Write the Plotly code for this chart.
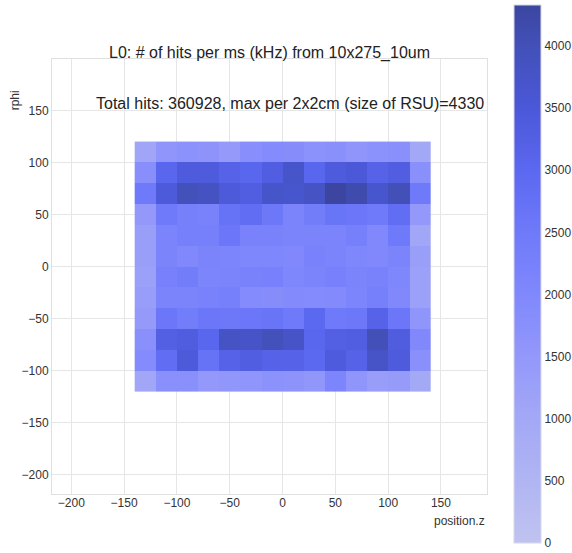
import plotly.graph_objects as go

# bin centers
z_centers = [-130, -110, -90, -70, -50, -30, -10, 10, 30, 50, 70, 90, 110, 130]
rphi_centers = [110, 90, 70, 50, 30, 10, -10, -30, -50, -70, -90, -110]

# hits per 2x2cm cell, rows from top (rphi=110) to bottom (rphi=-110)
hits = [
    [1100, 1600, 1700, 1650, 1450, 1800, 1900, 1850, 1700, 1750, 1600, 1700, 1750, 1000],
    [1800, 3050, 3400, 3400, 3150, 3050, 3300, 3700, 3050, 3400, 3500, 3150, 3300, 1750],
    [2500, 3450, 3950, 3850, 3450, 3300, 3700, 3650, 3800, 4330, 4150, 3650, 4000, 2500],
    [1500, 2500, 2300, 2200, 2700, 2850, 2550, 2150, 2400, 2650, 2600, 2500, 2850, 1500],
    [1300, 2150, 2300, 2300, 2600, 2200, 2200, 2150, 2150, 2150, 2300, 2000, 2500, 1050],
    [1300, 2150, 2000, 2150, 2100, 2050, 2050, 2000, 2200, 2150, 2050, 2000, 2150, 1300],
    [1250, 2250, 2400, 2100, 2150, 2200, 2250, 2050, 2150, 2250, 2150, 2200, 2050, 1250],
    [1350, 2150, 2150, 2200, 2300, 1900, 1850, 1950, 1900, 1950, 2100, 2300, 2000, 1250],
    [1450, 2600, 2400, 2600, 2550, 2600, 2650, 2500, 3000, 2500, 2550, 3150, 2600, 1600],
    [1750, 3250, 3350, 3050, 3800, 3750, 3950, 3750, 3050, 3250, 3300, 4000, 3350, 2000],
    [1900, 2850, 3450, 2700, 3150, 3300, 3150, 3150, 3000, 3400, 3150, 3750, 3400, 1750],
    [1050, 1750, 1750, 1500, 1550, 1600, 1700, 1650, 1550, 2100, 1600, 1350, 1400, 950],
]

cbar_ticks = [0, 500, 1000, 1500, 2000, 2500, 3000, 3500, 4000]
x_ticks = [-200, -150, -100, -50, 0, 50, 100, 150]
y_ticks = [-200, -150, -100, -50, 0, 50, 100, 150]

title_text = "L0: # of hits per ms (kHz) from 10x275_10um"
note_text = "Total hits: 360928, max per 2x2cm (size of RSU)=4330"

zmax = 4330
cs = [
    [0.0, "#c0c3f0"],
    [500 / zmax, "#b0b5f3"],
    [1000 / zmax, "#a3a8f6"],
    [1500 / zmax, "#9398fa"],
    [2000 / zmax, "#8088fc"],
    [2500 / zmax, "#6f7afa"],
    [3000 / zmax, "#5b68f0"],
    [3500 / zmax, "#4b58d8"],
    [4000 / zmax, "#4250b8"],
    [1.0, "#3c46a0"],
]

font_family = "Liberation Sans, Arial, sans-serif"

fig = go.Figure(
    go.Heatmap(
        x=z_centers,
        y=rphi_centers,
        z=hits,
        zmin=0,
        zmax=zmax,
        colorscale=cs,
        colorbar=dict(
            xref="container",
            x=514 / 572,
            xanchor="left",
            xpad=0,
            yref="paper",
            y=(494 - 274) / 435,
            yanchor="middle",
            lenmode="pixels",
            len=538,
            ypad=0,
            thickness=27,
            outlinewidth=1,
            outlinecolor="#d8d8e8",
            tickvals=cbar_ticks,
            ticks="",
            ticklabeloverflow="allow",
            tickfont=dict(size=12, color="#333333", family=font_family),
        ),
    )
)

fig.update_layout(
    width=572,
    height=553,
    margin=dict(l=52, r=85, t=59, b=59),
    paper_bgcolor="white",
    plot_bgcolor="white",
    font=dict(family=font_family, color="#333333"),
    title=dict(
        text=title_text,
        x=(52 + 487) / 2 / 572,
        xanchor="center",
        y=1 - 52 / 553,
        yanchor="middle",
        font=dict(size=16, color="#222222", family=font_family),
    ),
    showlegend=False,
    annotations=[
        dict(
            text=note_text,
            xref="paper",
            yref="y",
            x=0.997,
            y=157,
            xanchor="right",
            yanchor="middle",
            showarrow=False,
            font=dict(size=16, color="#222222", family=font_family),
        ),
        dict(
            text="rphi",
            xref="paper",
            yref="paper",
            x=-0.085,
            y=0.905,
            textangle=-90,
            xanchor="center",
            yanchor="middle",
            showarrow=False,
            font=dict(size=12, color="#333333", family=font_family),
        ),
        dict(
            text="position.z",
            xref="paper",
            yref="paper",
            x=1.0,
            y=-0.042,
            xanchor="right",
            yanchor="top",
            showarrow=False,
            font=dict(size=12, color="#333333", family=font_family),
        ),
    ],
)

fig.update_xaxes(
    range=[-218.3, 193.6],
    tickvals=x_ticks,
    showgrid=True,
    gridcolor="#e6e6e6",
    gridwidth=1,
    zeroline=False,
    showline=True,
    linecolor="#e0e0e0",
    mirror=True,
    ticks="",
    ticklabelstandoff=-2,
    tickfont=dict(size=12, color="#333333"),
)
fig.update_yaxes(
    range=[-218.8, 199.4],
    tickvals=y_ticks,
    showgrid=True,
    gridcolor="#e6e6e6",
    gridwidth=1,
    zeroline=False,
    showline=True,
    linecolor="#e0e0e0",
    mirror=True,
    ticks="",
    tickfont=dict(size=12, color="#333333"),
)

fig.write_html("out.html")
